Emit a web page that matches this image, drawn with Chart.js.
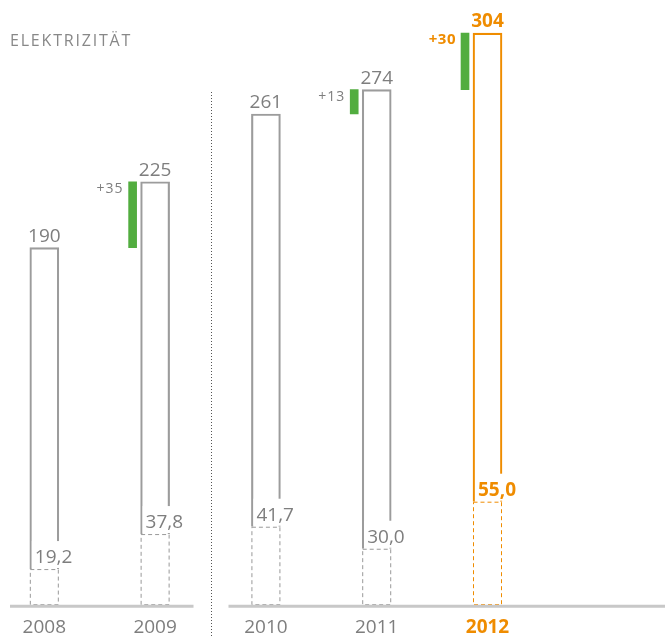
<!DOCTYPE html>
<html lang="de">
<head>
<meta charset="utf-8">
<title>Elektrizität</title>
<script src="https://cdn.jsdelivr.net/npm/chart.js@4.4.1/dist/chart.umd.min.js"></script>
<style>
  html, body { margin: 0; padding: 0; background: #fff; }
  #wrap { position: relative; width: 667px; height: 637px; }
</style>
</head>
<body>
<div id="wrap">
  <canvas id="stromChart"></canvas>
</div>
<script>
// Daten
const titel = "ELEKTRIZITÄT";
const jahre = ["2008", "2009", "2010", "2011", "2012"];
const gesamt = [190, 225, 261, 274, 304];
const anteil = [19.2, 37.8, 41.7, 30.0, 55.0];
const zuwachs = [null, 35, null, 13, 30];

// Farben
const grau = "#7e7e7e";
const rahmenGrau = "#9c9c9c";
const orange = "#ef8c00";
const gruen = "#52ad3f";
const schrift = "'Open Sans', sans-serif";

const letzter = jahre.length - 1;
const farbe = i => (i === letzter ? orange : grau);
const rahmen = i => (i === letzter ? orange : rahmenGrau);
const komma = v => v.toFixed(1).replace(".", ",");

// x-Achse: Pixel pro Jahr ~111, erstes Jahr bei ~44px
const xMin = -0.4;
const xMax = 5.62;
const gruenVersatz = 0.203;

const zeichnenPlugin = {
  id: "zeichnen",
  afterDatasetsDraw(chart) {
    const ctx = chart.ctx;
    const area = chart.chartArea;
    const xScale = chart.scales.x;
    const yScale = chart.scales.y;
    const nullY = yScale.getPixelForValue(0);
    const haupt = chart.getDatasetMeta(0).data;
    const teil = chart.getDatasetMeta(1).data;
    const plus = chart.getDatasetMeta(2).data;

    ctx.save();

    // Titel
    ctx.font = "16px " + schrift;
    ctx.letterSpacing = "1.8px";
    ctx.fillStyle = "#888";
    ctx.textAlign = "left";
    ctx.textBaseline = "alphabetic";
    ctx.fillText(titel, 10, 46);
    ctx.letterSpacing = "0px";

    // gestrichelte Kästen für den Anteil
    teil.forEach((el, i) => {
      const links = el.x - el.width / 2;
      ctx.setLineDash([4, 3]);
      ctx.lineWidth = 1;
      ctx.strokeStyle = i === letzter ? orange : "#999";
      ctx.strokeRect(links + 0.5, el.y + 0.5, el.width - 1, el.base - el.y - 1);
    });
    ctx.setLineDash([]);

    // Beschriftung Anteil (mit weißem Hintergrund, unterbricht den Rahmen)
    teil.forEach((el, i) => {
      const links = el.x - el.width / 2;
      ctx.font = (i === letzter ? "bold " : "") + "19px " + schrift;
      const text = komma(anteil[i]);
      const breite = ctx.measureText(text).width;
      ctx.fillStyle = "#fff";
      ctx.fillRect(links + 2, el.y - 28, breite + 10, 27);
      ctx.fillStyle = farbe(i);
      ctx.textAlign = "left";
      ctx.textBaseline = "alphabetic";
      ctx.fillText(text, links + 5, el.y - 6);
    });

    // Beschriftung Gesamt
    haupt.forEach((el, i) => {
      ctx.font = (i === letzter ? "bold " : "") + "19px " + schrift;
      ctx.fillStyle = farbe(i);
      ctx.textAlign = "center";
      ctx.textBaseline = "alphabetic";
      ctx.fillText(String(gesamt[i]), el.x, el.y - 6);
    });

    // Beschriftung Zuwachs
    plus.forEach((el, i) => {
      if (zuwachs[i] === null || !el) return;
      const links = el.x - el.width / 2;
      if (i === letzter) {
        ctx.font = "bold 15px " + schrift;
        ctx.fillStyle = orange;
        ctx.letterSpacing = "0.5px";
      } else {
        ctx.font = "14px " + schrift;
        ctx.fillStyle = grau;
        ctx.letterSpacing = "1px";
      }
      ctx.textAlign = "right";
      ctx.textBaseline = "alphabetic";
      ctx.fillText("+" + zuwachs[i], links - 5, el.y + 11);
    });
    ctx.letterSpacing = "0px";

    // Trennlinie zwischen 2009 und 2010
    const trennX = Math.round(xScale.getPixelForValue(1.5)) + 0.5;
    ctx.setLineDash([1, 2]);
    ctx.lineWidth = 1;
    ctx.strokeStyle = "#555";
    ctx.beginPath();
    ctx.moveTo(trennX, 92);
    ctx.lineTo(trennX, chart.height);
    ctx.stroke();
    ctx.setLineDash([]);

    // Grundlinie
    ctx.lineWidth = 3;
    ctx.strokeStyle = "#c8c8c8";
    ctx.beginPath();
    ctx.moveTo(area.left + 10, nullY + 1);
    ctx.lineTo(trennX - 18, nullY + 1);
    ctx.moveTo(trennX + 17, nullY + 1);
    ctx.lineTo(area.right - 2, nullY + 1);
    ctx.stroke();

    ctx.restore();
  }
};

const ctx = document.getElementById("stromChart").getContext("2d");
window.stromChart = new Chart(ctx, {
  type: "bar",
  data: {
    datasets: [
      {
        label: "Gesamt",
        data: gesamt.map((v, i) => ({ x: i, y: [anteil[i], v] })),
        backgroundColor: "rgba(255,255,255,0)",
        borderColor: jahre.map((_, i) => rahmen(i)),
        borderWidth: 1.5,
        borderSkipped: "bottom",
        barThickness: 29,
        grouped: false
      },
      {
        label: "Anteil",
        data: anteil.map((v, i) => ({ x: i, y: v })),
        backgroundColor: "rgba(255,255,255,0)",
        borderWidth: 0,
        barThickness: 29,
        grouped: false
      },
      {
        label: "Zuwachs",
        xAxisID: "xg",
        data: zuwachs.map((d, i) => ({ x: i, y: d === null ? null : [gesamt[i] - d, gesamt[i]] })),
        backgroundColor: gruen,
        borderWidth: 0,
        barThickness: 8,
        grouped: false
      }
    ]
  },
  options: {
    responsive: true,
    maintainAspectRatio: false,
    animation: false,
    layout: { padding: { top: 3, right: 0, bottom: -13, left: 0 } },
    plugins: {
      legend: { display: false },
      tooltip: { enabled: false },
      title: { display: false }
    },
    scales: {
      x: {
        type: "linear",
        offset: false,
        min: xMin,
        max: xMax,
        grid: { display: false, drawTicks: false, tickLength: 0, offset: false },
        border: { display: false },
        afterBuildTicks: scale => {
          scale.ticks = jahre.map((_, i) => ({ value: i }));
        },
        ticks: {
          padding: 11,
          autoSkip: false,
          maxRotation: 0,
          callback: value => jahre[value],
          color: c => farbe(c.index),
          font: c => ({ family: schrift, size: 19, weight: c.index === letzter ? "bold" : "normal" })
        }
      },
      xg: {
        type: "linear",
        display: false,
        offset: false,
        min: xMin + gruenVersatz,
        max: xMax + gruenVersatz
      },
      y: {
        display: false,
        min: 0,
        max: 320
      }
    }
  },
  plugins: [zeichnenPlugin]
});
</script>
</body>
</html>
